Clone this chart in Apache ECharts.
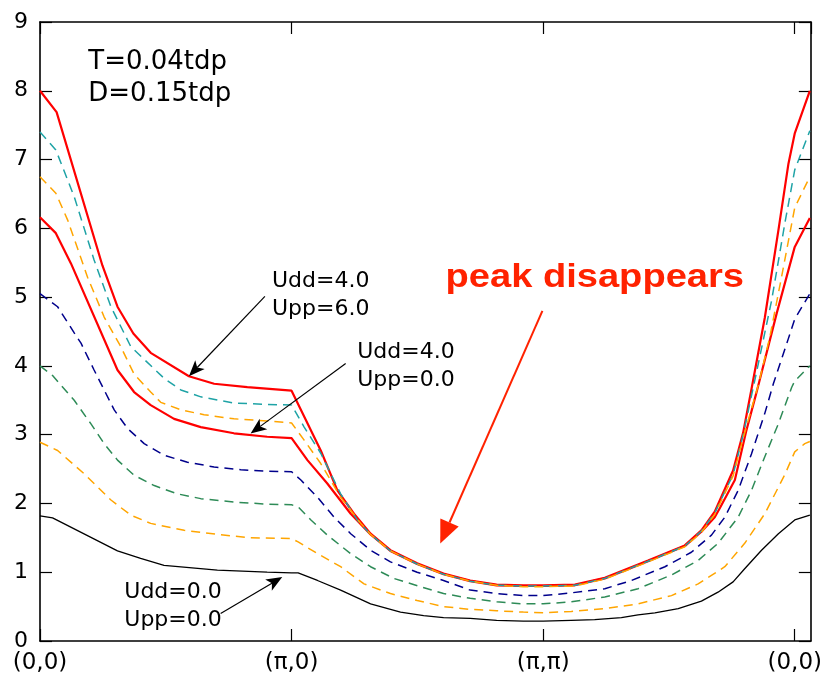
<!DOCTYPE html>
<html>
<head>
<meta charset="utf-8">
<script src="https://cdn.jsdelivr.net/npm/echarts@6/dist/echarts.min.js"></script>
<style>
html,body{margin:0;padding:0;background:#fff;}
#chart{width:825px;height:680px;}
</style>
</head>
<body>
<div id="chart"></div>
<script>
// ---- data ----
const xTickLabels = ['(0,0)', '(π,0)', '(π,π)', '(0,0)'];
const yTickValues = [0,1,2,3,4,5,6,7,8,9];

const redUdd4Upp6 = [[0,8.0],[0.066,7.69],[0.248,5.46],[0.308,4.86],[0.371,4.47],[0.44,4.19],[0.592,3.85],[0.692,3.74],[0.824,3.69],[1,3.64],
 [1.116,2.77],[1.182,2.19],[1.248,1.85],[1.314,1.56],[1.393,1.32],[1.499,1.13],[1.604,0.98],[1.71,0.88],[1.815,0.82],[1.921,0.81],[2,0.81],
 [2.126,0.82],[2.245,0.92],[2.417,1.17],[2.563,1.39],[2.629,1.61],[2.682,1.88],[2.755,2.48],[2.795,3.03],[2.828,3.66],[2.881,4.70],[2.935,5.97],[2.975,6.94],[3.0,7.38],[3.06,8.0]];
const redUdd4Upp0 = [[0,6.16],[0.063,5.93],[0.123,5.49],[0.308,3.94],[0.374,3.62],[0.44,3.43],[0.533,3.23],[0.639,3.11],[0.771,3.02],[0.903,2.97],[1,2.95],
 [1.063,2.63],[1.142,2.29],[1.235,1.85],[1.314,1.55],[1.393,1.31],[1.499,1.12],[1.604,0.97],[1.71,0.87],[1.815,0.81],[1.921,0.80],[2,0.80],
 [2.126,0.81],[2.245,0.91],[2.417,1.16],[2.563,1.38],[2.629,1.59],[2.682,1.80],[2.702,1.93],[2.762,2.34],[2.807,3.05],[2.847,3.60],[2.928,4.76],[3.0,5.73],[3.06,6.15]];
const tealDash = [[0,7.40],[0.063,7.14],[0.136,6.46],[0.215,5.54],[0.282,4.86],[0.361,4.28],[0.493,3.82],[0.56,3.65],[0.639,3.55],[0.771,3.46],[0.903,3.44],[1,3.43],
 [1.05,3.11],[1.116,2.73],[1.195,2.14],[1.261,1.76],[1.314,1.55],[1.393,1.31],[1.499,1.12],[1.604,0.97],[1.71,0.87],[1.815,0.81],[1.921,0.80],[2,0.80],
 [2.126,0.81],[2.245,0.91],[2.417,1.16],[2.563,1.38],[2.629,1.60],[2.682,1.86],[2.755,2.42],[2.795,3.0],[2.847,3.89],[2.908,4.95],[2.962,6.10],[3.0,6.85],[3.06,7.42]];
const orangeHighDash = [[0,6.75],[0.063,6.51],[0.11,6.12],[0.189,5.29],[0.255,4.71],[0.321,4.28],[0.374,3.88],[0.44,3.62],[0.48,3.47],[0.56,3.36],[0.652,3.29],[0.771,3.23],[0.903,3.20],[1,3.17],
 [1.05,2.92],[1.116,2.58],[1.195,2.09],[1.275,1.71],[1.314,1.55],[1.393,1.31],[1.499,1.12],[1.604,0.97],[1.71,0.87],[1.815,0.81],[1.921,0.79],[2,0.79],
 [2.126,0.80],[2.245,0.90],[2.417,1.15],[2.563,1.37],[2.629,1.58],[2.682,1.84],[2.755,2.40],[2.795,2.95],[2.855,3.72],[2.901,4.42],[2.948,5.30],[3.0,6.30],[3.06,6.75]];
const navyDash = [[0,5.05],[0.07,4.86],[0.136,4.48],[0.163,4.33],[0.215,3.94],[0.255,3.65],[0.295,3.36],[0.348,3.09],[0.414,2.87],[0.493,2.70],[0.586,2.60],[0.692,2.53],[0.798,2.49],[0.903,2.47],[1,2.46],
 [1.037,2.34],[1.103,2.09],[1.169,1.80],[1.235,1.56],[1.314,1.32],[1.393,1.15],[1.499,1.00],[1.604,0.88],[1.71,0.74],[1.815,0.69],[1.921,0.66],[2,0.66],
 [2.112,0.70],[2.245,0.76],[2.351,0.88],[2.484,1.08],[2.589,1.29],[2.669,1.54],[2.722,1.80],[2.775,2.19],[2.828,2.72],[2.881,3.31],[2.915,3.74],[2.975,4.40],[3.0,4.68],[3.06,5.05]];
const greenDash = [[0,4.0],[0.05,3.86],[0.136,3.50],[0.202,3.16],[0.255,2.87],[0.308,2.63],[0.374,2.41],[0.454,2.26],[0.546,2.14],[0.639,2.07],[0.771,2.02],[0.903,1.99],[1,1.98],
 [1.026,1.95],[1.077,1.76],[1.142,1.54],[1.235,1.27],[1.314,1.08],[1.406,0.91],[1.512,0.79],[1.604,0.69],[1.71,0.62],[1.815,0.57],[1.921,0.54],[2,0.54],
 [2.112,0.57],[2.245,0.64],[2.377,0.76],[2.51,0.96],[2.616,1.17],[2.695,1.42],[2.775,1.80],[2.828,2.19],[2.881,2.68],[2.935,3.16],[2.988,3.69],[3.0,3.78],[3.06,4.0]];
const orangeLowDash = [[0,2.89],[0.07,2.77],[0.176,2.43],[0.282,2.05],[0.361,1.83],[0.44,1.71],[0.573,1.61],[0.705,1.55],[0.837,1.50],[1,1.49],
 [1.026,1.44],[1.103,1.27],[1.195,1.08],[1.288,0.83],[1.393,0.69],[1.499,0.59],[1.604,0.50],[1.71,0.46],[1.815,0.44],[1.921,0.42],[2,0.41],
 [2.112,0.43],[2.245,0.47],[2.377,0.54],[2.51,0.66],[2.616,0.83],[2.722,1.08],[2.801,1.42],[2.881,1.85],[2.962,2.43],[3.0,2.75],[3.04,2.87],[3.06,2.90]];
const blackUdd0Upp0 = [[0,1.82],[0.05,1.79],[0.308,1.31],[0.4,1.20],[0.493,1.10],[0.705,1.03],[0.903,1.00],[1,0.99],
 [1.026,0.99],[1.103,0.88],[1.195,0.74],[1.314,0.54],[1.433,0.42],[1.525,0.37],[1.604,0.34],[1.71,0.33],[1.815,0.30],[1.921,0.29],[2,0.29],
 [2.112,0.30],[2.205,0.31],[2.311,0.34],[2.377,0.38],[2.444,0.41],[2.537,0.47],[2.629,0.58],[2.695,0.71],[2.755,0.86],[2.801,1.05],[2.868,1.32],[2.935,1.56],[3.0,1.76],[3.06,1.83]];

// annotation texts and anchor points (data coordinates)
const paramText = 'T=0.04tdp\nD=0.15tdp';
const paramAt = [0.192, 8.18];
const labelA = 'Udd=4.0\nUpp=6.0', labelAAt = [0.922, 5.025], arrowA = [[0.894, 5.01], [0.592, 3.85]];
const labelB = 'Udd=4.0\nUpp=0.0', labelBAt = [1.261, 3.995], arrowB = [[1.215, 4.035], [0.837, 3.017]];
const labelC = 'Udd=0.0\nUpp=0.0', labelCAt = [0.335, 0.505], arrowC = [[0.718, 0.40], [0.963, 0.93]];
const peakText = 'peak disappears', peakAt = [1.612, 5.29], peakArrow = [[1.997, 4.80], [1.591, 1.417]];

// ---- chart ----
const FONT = 'DejaVu Sans';
const chart = echarts.init(document.getElementById('chart'), null, {renderer: 'canvas'});

function xAx(pos, showLabel) {
  return {
    type: 'value', min: 0, max: 3.064, interval: 1, position: pos,
    axisLine: {show: true, onZero: false, lineStyle: {color: '#000', width: 1.6}},
    axisTick: {show: true, inside: true, length: 12, lineStyle: {color: '#000', width: 1.2}},
    axisLabel: {show: showLabel, fontSize: 23, color: '#000', fontFamily: FONT, margin: 11, showMaxLabel: false,
      formatter: v => { const i = Math.round(v); return (Math.abs(v - i) < 1e-6 && i < xTickLabels.length) ? xTickLabels[i] : ''; }},
    splitLine: {show: false}
  };
}
function yAx(pos, showLabel) {
  return {
    type: 'value', min: yTickValues[0], max: yTickValues[yTickValues.length - 1], interval: 1, position: pos,
    axisLine: {show: true, onZero: false, lineStyle: {color: '#000', width: 1.6}},
    axisTick: {show: true, inside: true, length: 12, lineStyle: {color: '#000', width: 1.2}},
    axisLabel: {show: showLabel, fontSize: 22, color: '#000', fontFamily: FONT, margin: 12},
    splitLine: {show: false}
  };
}
function ser(data, color, width, dashed) {
  return {
    type: 'line', data: data, xAxisIndex: 0, yAxisIndex: 0, showSymbol: false, symbol: 'none',
    smooth: false, silent: true, animation: false,
    lineStyle: {color: color, width: width, type: dashed ? [9, 6] : 'solid'}
  };
}

chart.setOption({
  animation: false,
  backgroundColor: '#fff',
  grid: {left: 40, top: 22, right: 12, bottom: 39, containLabel: false},
  xAxis: [xAx('bottom', true), xAx('top', false)],
  yAxis: [yAx('left', true), yAx('right', false)],
  series: [
    ser(redUdd4Upp6, '#ff0000', 2.2, false),
    ser(redUdd4Upp0, '#ff0000', 2.2, false),
    ser(tealDash, '#1fa3a6', 1.5, true),
    ser(orangeHighDash, '#ffa500', 1.5, true),
    ser(navyDash, '#00008b', 1.5, true),
    ser(greenDash, '#2e8b57', 1.5, true),
    ser(orangeLowDash, '#ffa500', 1.5, true),
    ser(blackUdd0Upp0, '#000000', 1.3, false)
  ]
});

function px(p) { return chart.convertToPixel({xAxisIndex: 0, yAxisIndex: 0}, p); }
function arrow(fromD, toD, color, lw, L, W, notch) {
  const [x1, y1] = px(fromD), [x2, y2] = px(toD);
  const dx = x2 - x1, dy = y2 - y1, len = Math.hypot(dx, dy);
  const ux = dx / len, uy = dy / len, pxv = -uy, pyv = ux;
  const bx = x2 - L * ux, by = y2 - L * uy;
  const nx = x2 - (L - notch) * ux, ny = y2 - (L - notch) * uy;
  return [
    {type: 'line', silent: true, z: 100, shape: {x1: x1, y1: y1, x2: nx, y2: ny}, style: {stroke: color, lineWidth: lw}},
    {type: 'polygon', silent: true, z: 100, shape: {points: [[x2, y2], [bx + W * pxv, by + W * pyv], [nx, ny], [bx - W * pxv, by - W * pyv]]}, style: {fill: color}}
  ];
}
function txt(text, atD, size, lh, color, weight, family, scaleX) {
  const [x, y] = px(atD);
  return {type: 'text', silent: true, z: 100, x: x, y: y, scaleX: scaleX || 1,
    style: {text: text, x: 0, y: 0, fill: color, fontSize: size, fontFamily: family, fontWeight: weight,
      lineHeight: lh, textAlign: 'left', textVerticalAlign: 'middle', align: 'left', verticalAlign: 'middle'}};
}

const g = [];
g.push(txt(paramText, paramAt, 26, 32, '#000', 'normal', FONT));
g.push(txt(labelA, labelAAt, 22, 28, '#000', 'normal', FONT));
g.push(txt(labelB, labelBAt, 22, 28, '#000', 'normal', FONT));
g.push(txt(labelC, labelCAt, 22, 28, '#000', 'normal', FONT));
g.push(txt(peakText, peakAt, 34, 40, '#ff2200', 'bold', 'Liberation Sans', 1.12));
g.push(...arrow(arrowA[0], arrowA[1], '#000', 1.2, 16, 6.5, 4));
g.push(...arrow(arrowB[0], arrowB[1], '#000', 1.2, 16, 6.5, 4));
g.push(...arrow(arrowC[0], arrowC[1], '#000', 1.2, 16, 6.5, 4));
g.push(...arrow(peakArrow[0], peakArrow[1], '#ff2200', 2, 23, 10, 0));
chart.setOption({graphic: g});
</script>
</body>
</html>
